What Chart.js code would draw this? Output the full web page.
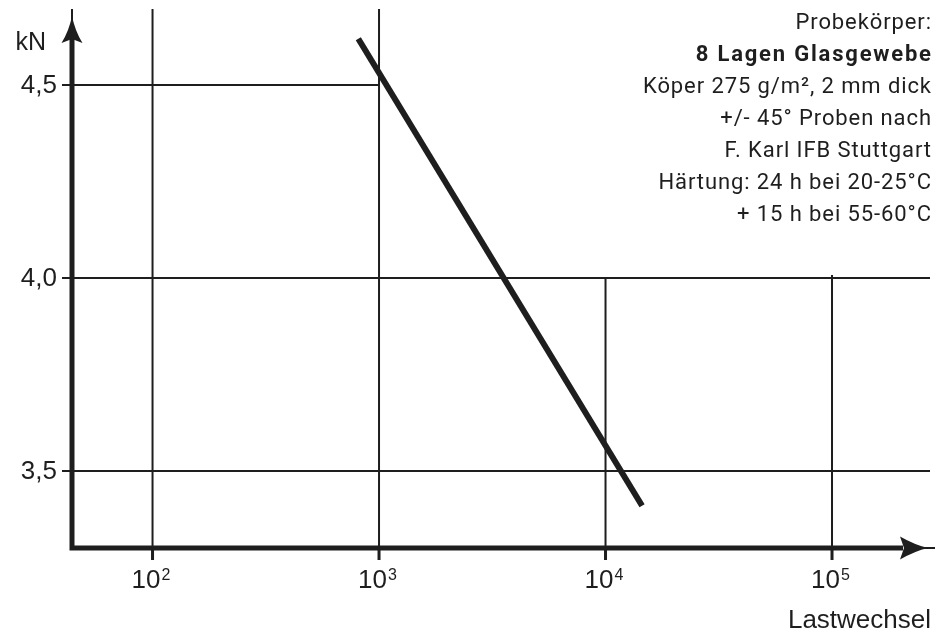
<!DOCTYPE html>
<html>
<head>
<meta charset="utf-8">
<script src="https://cdn.jsdelivr.net/npm/chart.js@4/dist/chart.umd.min.js"></script>
<style>
  html, body { margin: 0; padding: 0; background: #fff; }
  #wrap { width: 950px; height: 635px; }
</style>
</head>
<body>
<div id="wrap"><canvas id="fatigueChart" width="950" height="635"></canvas></div>
<script>
// values
const xTicks = [100, 1000, 10000, 100000];
const xExponents = ['2', '3', '4', '5'];
const yTicks = [4.5, 4.0, 3.5];
const yTickLabels = ['4,5', '4,0', '3,5'];
const lineX = [810, 14500];
const lineY = [4.62, 3.41];
const yUnit = 'kN';
const xTitle = 'Lastwechsel';
const noteLines = [
    'Probekörper:',
    '8 Lagen Glasgewebe',
    'Köper 275 g/m², 2 mm dick',
    '+/- 45° Proben nach',
    'F. Karl IFB Stuttgart',
    'Härtung: 24 h bei 20-25°C',
    '+ 15 h bei 55-60°C'
];

const ink = '#1e1e1e';
const labelFont = '26px "Liberation Sans", Arial, sans-serif';
const supFont = '16px "Liberation Sans", Arial, sans-serif';

const drawing = {
    id: 'drawing',
    beforeDatasetsDraw(chart) {
        const ctx = chart.ctx;
        const xs = chart.scales.x, ys = chart.scales.y;
        const left = xs.left, right = xs.right, top = ys.top, bottom = ys.bottom;
        ctx.save();
        ctx.strokeStyle = ink;
        ctx.lineWidth = 2;
        ctx.beginPath();
        // vertical grid: 10^2, 10^3 full height, 10^4, 10^5 only from 4,0 down
        xTicks.forEach(function (v) {
            const px = xs.getPixelForValue(v);
            const from = v <= 1000 ? top : ys.getPixelForValue(4.0) - (v > 10000 ? 3 : 0);
            ctx.moveTo(px, from);
            ctx.lineTo(px, bottom);
        });
        // horizontal grid
        yTicks.forEach(function (v) {
            const py = ys.getPixelForValue(v);
            const to = v === 4.5 ? xs.getPixelForValue(1000) : right - 5;
            ctx.moveTo(left - 10, py);
            ctx.lineTo(to, py);
        });
        ctx.stroke();
        ctx.restore();
    },
    afterDatasetsDraw(chart) {
        const ctx = chart.ctx;
        const xs = chart.scales.x, ys = chart.scales.y;
        const left = xs.left, right = xs.right, top = ys.top, bottom = ys.bottom;
        ctx.save();
        ctx.strokeStyle = ink;
        ctx.fillStyle = ink;

        // thin tips of the axes
        ctx.lineWidth = 2;
        ctx.beginPath();
        ctx.moveTo(left, top);
        ctx.lineTo(left, top + 14);
        ctx.moveTo(right - 12, bottom);
        ctx.lineTo(right, bottom);
        ctx.stroke();

        // axis lines
        ctx.lineWidth = 5;
        ctx.beginPath();
        ctx.moveTo(left, bottom + 2.5);
        ctx.lineTo(left, top + 30);
        ctx.moveTo(left - 2.5, bottom);
        ctx.lineTo(right - 32, bottom);
        ctx.stroke();

        // arrow heads
        ctx.beginPath();
        ctx.moveTo(left, top + 7);
        ctx.quadraticCurveTo(left - 3, top + 22, left - 10.5, top + 34);
        ctx.lineTo(left, top + 30);
        ctx.lineTo(left + 10.5, top + 34);
        ctx.quadraticCurveTo(left + 3, top + 22, left, top + 7);
        ctx.closePath();
        ctx.fill();
        ctx.beginPath();
        ctx.moveTo(right - 7, bottom);
        ctx.quadraticCurveTo(right - 20, bottom - 3, right - 35, bottom - 11.5);
        ctx.lineTo(right - 31, bottom);
        ctx.lineTo(right - 35, bottom + 11.5);
        ctx.quadraticCurveTo(right - 20, bottom + 3, right - 7, bottom);
        ctx.closePath();
        ctx.fill();

        // tick marks under the x axis
        ctx.lineWidth = 3;
        ctx.beginPath();
        xTicks.forEach(function (v) {
            const px = xs.getPixelForValue(v);
            ctx.moveTo(px, bottom);
            ctx.lineTo(px, bottom + 12);
        });
        ctx.stroke();

        // y tick labels and unit
        ctx.font = labelFont;
        ctx.textAlign = 'right';
        ctx.textBaseline = 'middle';
        yTicks.forEach(function (v, i) {
            ctx.fillText(yTickLabels[i], left - 15, ys.getPixelForValue(v) + 1);
        });
        ctx.font = '25px "Liberation Sans", Arial, sans-serif';
        ctx.fillText(yUnit, left - 26, top + 34);

        // x tick labels: 10 with a raised exponent
        ctx.textBaseline = 'alphabetic';
        ctx.textAlign = 'left';
        xTicks.forEach(function (v, i) {
            const px = xs.getPixelForValue(v);
            ctx.font = labelFont;
            const w1 = ctx.measureText('10').width;
            ctx.font = supFont;
            const w2 = ctx.measureText(xExponents[i]).width;
            const x0 = px - (w1 + w2) / 2 - 2;
            ctx.font = labelFont;
            ctx.fillText('10', x0, bottom + 40);
            ctx.font = supFont;
            ctx.fillText(xExponents[i], x0 + w1 + 1, bottom + 32);
        });

        // axis title
        ctx.font = labelFont;
        ctx.textAlign = 'right';
        ctx.fillText(xTitle, 931, bottom + 80);

        // specimen note
        noteLines.forEach(function (t, i) {
            if (i === 1) {
                ctx.font = 'bold 22px Roboto, sans-serif';
                ctx.letterSpacing = '1.8px';
            } else {
                ctx.font = '22px Roboto, sans-serif';
                ctx.letterSpacing = '0.9px';
            }
            ctx.fillText(t, 931 + (i === 1 ? 1.8 : 0.9), 29 + i * 32);
        });
        ctx.letterSpacing = '0px';
        ctx.restore();
    }
};

const ctx = document.getElementById('fatigueChart').getContext('2d');
const chart = new Chart(ctx, {
    type: 'scatter',
    data: {
        datasets: [{
            label: 'Probekörper',
            data: lineX.map(function (x, i) { return { x: x, y: lineY[i] }; }),
            showLine: true,
            borderColor: ink,
            borderWidth: 6,
            pointRadius: 0,
            borderCapStyle: 'butt'
        }]
    },
    options: {
        responsive: false,
        animation: false,
        layout: { padding: { left: 72, right: 15, top: 9, bottom: 87 } },
        plugins: { legend: { display: false }, tooltip: { enabled: false } },
        scales: {
            x: { type: 'logarithmic', min: 44.1, max: 284900, display: false },
            y: { type: 'linear', min: 3.3005, max: 4.6969, display: false }
        }
    },
    plugins: [drawing]
});
</script>
</body>
</html>
